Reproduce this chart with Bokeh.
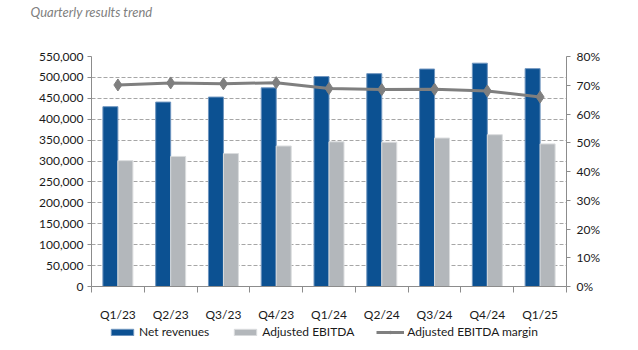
from bokeh.plotting import figure
from bokeh.layouts import column
from bokeh.models import (Range1d, LinearAxis, FixedTicker, NumeralTickFormatter,
                          Legend, LegendItem, ColumnDataSource)
from bokeh.embed import file_html
from bokeh.resources import INLINE

title_text = "Quarterly results trend"
quarters = ["Q1/23", "Q2/23", "Q3/23", "Q4/23", "Q1/24", "Q2/24", "Q3/24", "Q4/24", "Q1/25"]
net_revenues = [430000, 441000, 453000, 475000, 502000, 509000, 520000, 534000, 521000]
adj_ebitda = [301000, 311000, 318000, 336000, 346000, 345000, 355000, 363000, 341000]
ebitda_margin = [0.701, 0.708, 0.705, 0.709, 0.689, 0.685, 0.686, 0.680, 0.659]
left_ticks = list(range(0, 550001, 50000))
right_ticks = [0.0, 0.1, 0.2, 0.3, 0.4, 0.5, 0.6, 0.7, 0.8]

BLUE = "#0c5192"
GRAY = "#b3b7bb"
LINE = "#7f7f7f"
FONT = "Lato"
BLUE_EDGE = "#6f95bf"
GRAY_EDGE = "#dadcde"
TXT = "#1a1a1a"
AX = "#8c8c8c"

n = len(quarters)
centers = [i + 0.5 for i in range(n)]
src = ColumnDataSource(dict(
    x=centers,
    xb=[c - 0.142 for c in centers],
    xg=[c + 0.142 for c in centers],
    rev=net_revenues,
    ebitda=adj_ebitda,
    margin=ebitda_margin,
))

# header strip with title
hd = figure(width=638, height=30, output_backend="svg", toolbar_location=None,
            x_axis_type=None, y_axis_type=None, x_range=Range1d(0, 1), y_range=Range1d(0, 1),
            min_border_left=91, min_border_right=72, min_border_top=0, min_border_bottom=0)
hd.outline_line_color = None
hd.grid.grid_line_color = None
hd.title.text = title_text
hd.title.text_font = FONT
hd.title.text_font_style = "italic"
hd.title.text_font_size = "13px"
hd.title.text_color = "#808080"
hd.title.align = "left"
hd.title.offset = -61
hd.title.standoff = 2

p = figure(width=638, height=294, output_backend="svg", toolbar_location=None,
           x_range=Range1d(0, n), y_range=Range1d(0, 550000),
           min_border_left=91, min_border_right=72, min_border_top=26, min_border_bottom=37)
p.extra_y_ranges = {"pct": Range1d(0, 0.8)}
p.outline_line_color = None
p.background_fill_color = "white"
p.border_fill_color = "white"

p.vbar(x="xb", width=0.284, top="rev", source=src, fill_color=BLUE,
       line_color=BLUE_EDGE, line_width=1)
p.vbar(x="xg", width=0.284, top="ebitda", source=src, fill_color=GRAY,
       line_color=GRAY_EDGE, line_width=1)
p.line(x="x", y="margin", source=src, y_range_name="pct", line_color=LINE, line_width=3)
p.scatter(x="x", y="margin", source=src, y_range_name="pct", marker="diamond",
          size=12, fill_color=LINE, line_color=LINE)

# x axis
xa = p.xaxis[0]
xa.ticker = FixedTicker(ticks=centers, minor_ticks=list(range(n + 1)))
xa.major_label_overrides = {c: q for c, q in zip(centers, quarters)}
xa.major_tick_out = 0
xa.major_tick_in = 0
xa.minor_tick_out = 6
xa.minor_tick_in = 0
xa.minor_tick_line_color = AX
xa.axis_line_color = AX
xa.major_label_text_font = FONT
xa.major_label_text_font_size = "12px"
xa.major_label_text_color = TXT
xa.major_label_standoff = 14

# left axis
ya = p.yaxis[0]
ya.ticker = FixedTicker(ticks=left_ticks)
ya.formatter = NumeralTickFormatter(format="0,0")
ya.axis_line_color = AX
ya.major_tick_line_color = AX
ya.major_tick_out = 4
ya.major_tick_in = 0
ya.minor_tick_line_color = None
ya.major_label_text_font = FONT
ya.major_label_text_font_size = "12px"
ya.major_label_text_color = TXT
ya.major_label_standoff = 4

# right axis
ra = LinearAxis(y_range_name="pct", ticker=FixedTicker(ticks=right_ticks),
                formatter=NumeralTickFormatter(format="0%"))
ra.axis_line_color = AX
ra.major_tick_line_color = AX
ra.major_tick_out = 4
ra.major_tick_in = 0
ra.minor_tick_line_color = None
ra.major_label_text_font = FONT
ra.major_label_text_font_size = "12px"
ra.major_label_text_color = TXT
ra.major_label_standoff = 6
p.add_layout(ra, "right")

p.xgrid.grid_line_color = None
p.ygrid.ticker = FixedTicker(ticks=left_ticks)
p.ygrid.grid_line_color = "#a6a6a6"
p.ygrid.grid_line_dash = "4 2"
p.ygrid.grid_line_width = 1

# legend strip (its frame is aligned with the main frame by the column layout)
lg = figure(width=638, height=26, output_backend="svg", toolbar_location=None,
            x_axis_type=None, y_axis_type=None, x_range=Range1d(1, 2), y_range=Range1d(1, 2),
            min_border_left=91, min_border_right=72, min_border_top=0, min_border_bottom=0)
lg.outline_line_color = None
lg.grid.grid_line_color = None
proxy = ColumnDataSource(dict(x=[0], y=[0], top=[0]))
l_rev = lg.vbar(x="x", top="top", width=0.1, source=proxy, fill_color=BLUE, line_color=BLUE_EDGE)
l_eb = lg.vbar(x="x", top="top", width=0.1, source=proxy, fill_color=GRAY, line_color=GRAY_EDGE)
l_line = lg.line(x="x", y="y", source=proxy, line_color=LINE, line_width=3)
l_pts = lg.scatter(x="x", y="y", source=proxy, marker="diamond", size=7,
                   fill_color=LINE, line_color=LINE)

legend = Legend(items=[
    LegendItem(label="Net revenues", renderers=[l_rev]),
    LegendItem(label="Adjusted EBITDA", renderers=[l_eb]),
    LegendItem(label="Adjusted EBITDA margin", renderers=[l_line, l_pts]),
], orientation="horizontal", location=(17, 11))
legend.label_text_font = FONT
legend.label_text_font_size = "12px"
legend.label_text_color = TXT
legend.glyph_width = 28
legend.glyph_height = 8
legend.label_height = 14
legend.label_standoff = 3
legend.spacing = 22
legend.border_line_color = None
legend.background_fill_alpha = 0
legend.padding = 0
legend.margin = 0
lg.add_layout(legend, "center")

open("out.html", "w").write(file_html(column(hd, p, lg, spacing=0), INLINE))
